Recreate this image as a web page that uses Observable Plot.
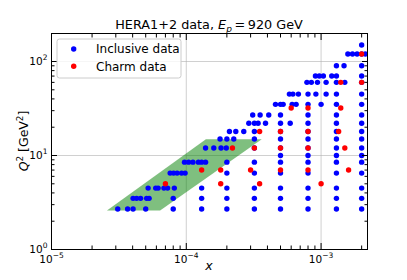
<!DOCTYPE html>
<html><head><meta charset="utf-8">
<script src="https://cdn.jsdelivr.net/npm/d3@7"></script>
<script src="https://cdn.jsdelivr.net/npm/@observablehq/plot@0.6"></script>
<style>
body{margin:0;background:#fff}
svg{font-family:"DejaVu Sans",sans-serif}
</style>
</head><body><div id="chart"></div>
<script>
// Inclusive data: Q^2 rows and the x values in each row
const incQ2 = [2.7, 3.5, 4.5, 6.5, 8.5, 10, 12, 15, 18, 22, 27, 35, 45, 60, 70, 90, 120, 150];
const incX = [
  [3.1e-5, 3.67e-5, 4.03e-5, 5.0e-5, 8.0e-5, 1.3e-4, 2.0e-4, 3.2e-4, 5.0e-4, 8.0e-4, 1.3e-3, 2.0e-3],
  [4.03e-5, 4.28e-5, 4.58e-5, 5.08e-5, 5.3e-5, 8.0e-5, 1.3e-4, 2.0e-4, 3.2e-4, 5.0e-4, 8.0e-4, 1.3e-3, 2.0e-3],
  [5.21e-5, 5.93e-5, 6.18e-5, 6.83e-5, 7.27e-5, 8.15e-5, 1.3e-4, 2.0e-4, 3.2e-4, 5.0e-4, 8.0e-4, 1.3e-3, 2.0e-3],
  [7.59e-5, 8.05e-5, 8.55e-5, 9.23e-5, 9.8e-5, 2.0e-4, 3.2e-4, 5.0e-4, 8.0e-4, 1.3e-3, 2.0e-3],
  [9.7e-5, 1.04e-4, 1.12e-4, 1.23e-4, 1.3e-4, 1.39e-4, 2.0e-4, 3.2e-4, 5.0e-4, 8.0e-4, 1.3e-3, 2.0e-3],
  [5.0e-4, 8.0e-4, 1.3e-3, 2.0e-3],
  [1.39e-4, 1.6e-4, 1.81e-4, 1.98e-4, 3.2e-4, 5.0e-4, 8.0e-4, 1.3e-3, 2.0e-3],
  [1.78e-4, 2.0e-4, 2.25e-4, 3.2e-4, 5.0e-4, 8.0e-4, 1.3e-3, 2.0e-3],
  [2.09e-4, 2.33e-4, 2.67e-4, 3.2e-4, 5.0e-4, 8.0e-4, 1.3e-3, 2.0e-3],
  [2.91e-4, 3.2e-4, 3.41e-4, 3.87e-4, 5.0e-4, 5.9e-4, 8.0e-4, 1.3e-3, 2.0e-3],
  [3.11e-4, 3.53e-4, 4.09e-4, 5.0e-4, 8.0e-4, 1.3e-3, 2.0e-3],
  [4.59e-4, 5.0e-4, 5.23e-4, 6.1e-4, 6.53e-4, 8.0e-4, 1.0e-3, 1.3e-3, 2.0e-3],
  [5.82e-4, 6.18e-4, 6.79e-4, 8.0e-4, 9.15e-4, 1.09e-3, 1.3e-3, 2.0e-3],
  [7.85e-4, 8.47e-4, 9.4e-4, 1.09e-3, 1.3e-3, 1.5e-3, 2.0e-3],
  [9.08e-4, 9.7e-4, 1.04e-3, 1.2e-3, 1.3e-3, 2.0e-3],
  [1.3e-3, 1.48e-3, 2.0e-3],
  [1.58e-3, 1.71e-3, 1.85e-3, 2.0e-3, 2.13e-3],
  [2.0e-3]
];
// Charm data
const charmQ2 = [5, 7, 12, 18, 32, 60, 120];
const charmX = [
  [7e-5, 1.8e-4, 3.5e-4, 1e-3],
  [1.3e-4, 1.8e-4, 3e-4, 5e-4, 8e-4, 1.6e-3],
  [2.2e-4, 3.2e-4, 5e-4, 8e-4, 1.5e-3],
  [3.5e-4, 5e-4, 8e-4, 1.35e-3],
  [6e-4, 8e-4, 1.4e-3],
  [1.4e-3, 2e-3],
  [2e-3]
];
// Green band (parallelogram): bottom and top Q^2 with left/right x edges
const bandQ2 = [2.57, 14.7];
const bandXLeft = [2.6e-5, 1.41e-4];
const bandXRight = [6.45e-5, 3.66e-4];
// Ticks (labels written as base^exponent)
const xMajor = [1e-5, 1e-4, 1e-3];
const xMajorLabels = ["10^\u22125", "10^\u22124", "10^\u22123"];
const xMinor = [2e-5,3e-5,4e-5,5e-5,6e-5,7e-5,8e-5,9e-5,2e-4,3e-4,4e-4,5e-4,6e-4,7e-4,8e-4,9e-4,2e-3];
const yMajor = [1, 10, 100];
const yMajorLabels = ["10^0", "10^1", "10^2"];
const yMinor = [2,3,4,5,6,7,8,9,20,30,40,50,60,70,80,90];

const inc = incQ2.flatMap((q, i) => incX[i].map(x => ({x, q})));
const charm = charmQ2.flatMap((q, i) => charmX[i].map(x => ({x, q})));
const band = bandQ2.map((q, i) => ({q, xl: bandXLeft[i], xr: bandXRight[i]}));

const gridStyle = {stroke: "#b0b0b0", strokeOpacity: 0.75, strokeWidth: 0.8};
const plot = Plot.plot({
  width: 407, height: 280,
  marginLeft: 51, marginRight: 40, marginTop: 33, marginBottom: 31,
  style: {fontFamily: "DejaVu Sans", fontSize: "10.5px", background: "white", color: "black"},
  x: {type: "log", domain: [1e-5, 2.21e-3]},
  y: {type: "log", domain: [1, 198.6]},
  marks: [
    Plot.gridX(xMajor.slice(1), gridStyle),
    Plot.gridY(yMajor.slice(1), gridStyle),
    Plot.areaX(band, {y: "q", x1: "xl", x2: "xr", fill: "green", fillOpacity: 0.5, curve: "linear"}),
    Plot.dot(inc, {x: "x", y: "q", r: 2.7, fill: "blue"}),
    Plot.dot(charm, {x: "x", y: "q", r: 2.7, fill: "red"}),
    Plot.frame({stroke: "black", strokeWidth: 1}),
    // inward ticks on all four sides
    Plot.axisX(xMajor, {anchor: "bottom", tickSize: -6, fill: "none", label: null}),
    Plot.axisX(xMinor, {anchor: "bottom", tickSize: -3.5, fill: "none", label: null}),
    Plot.axisX(xMajor, {anchor: "top", tickSize: -6, fill: "none", label: null}),
    Plot.axisX(xMinor, {anchor: "top", tickSize: -3.5, fill: "none", label: null}),
    Plot.axisY(yMajor, {anchor: "left", tickSize: -6, fill: "none", label: null}),
    Plot.axisY(yMinor, {anchor: "left", tickSize: -3.5, fill: "none", label: null}),
    Plot.axisY(yMajor, {anchor: "right", tickSize: -6, fill: "none", label: null}),
    Plot.axisY(yMinor, {anchor: "right", tickSize: -3.5, fill: "none", label: null}),
    // labels
    Plot.axisX(xMajor, {anchor: "bottom", tickSize: 0, tickPadding: 6, label: null,
      tickFormat: d => xMajorLabels[xMajor.indexOf(d)], fontSize: 10.5}),
    Plot.axisY(yMajor, {anchor: "left", tickSize: 0, tickPadding: 4, label: null,
      tickFormat: d => yMajorLabels[yMajor.indexOf(d)], fontSize: 10.5})
  ]
});
document.getElementById("chart").appendChild(plot);

const svg = d3.select(plot);

// turn "10^e" tick labels into base + superscript
svg.selectAll('g[aria-label*="tick label"] text').each(function () {
  const s = this.textContent;
  const parts = s.split("^");
  if (parts.length < 2) return;
  const el = d3.select(this);
  el.text(null);
  el.append("tspan").text(parts[0]);
  el.append("tspan").attr("font-size", 7.5).attr("dy", -4.5).text(parts[1]);
});

const xs = plot.scale("x"), ys = plot.scale("y");
const cx = (xs.range[0] + xs.range[1]) / 2;
const cy = (ys.range[0] + ys.range[1]) / 2;

// Title
const t = svg.append("text").attr("x", cx).attr("y", 29).attr("text-anchor", "middle")
  .attr("font-size", 12.8).attr("fill", "black");
t.append("tspan").text("HERA1+2 data, ");
t.append("tspan").attr("font-style", "italic").text("E");
t.append("tspan").attr("font-style", "italic").attr("font-size", 9).attr("dy", 2.8).text("p");
t.append("tspan").attr("dy", -2.8).text("\u2009=\u2009920 GeV");

// x label
svg.append("text").attr("x", cx).attr("y", 270).attr("text-anchor", "middle")
  .attr("font-size", 12.5).attr("font-style", "italic").attr("fill", "black").text("x");

// y label
const yl = svg.append("text").attr("transform", `translate(28,${cy}) rotate(-90)`)
  .attr("text-anchor", "middle").attr("font-size", 12.5).attr("fill", "black");
yl.append("tspan").attr("font-style", "italic").text("Q");
yl.append("tspan").attr("font-size", 8.8).attr("dy", -4.8).text("2");
yl.append("tspan").attr("dy", 4.8).text(" [GeV");
yl.append("tspan").attr("font-size", 8.8).attr("dy", -4.8).text("2");
yl.append("tspan").attr("dy", 4.8).text("]");

// Legend
const lg = svg.append("g").attr("text-anchor", "start");
lg.append("rect").attr("x", 57).attr("y", 39).attr("width", 124).attr("height", 39)
  .attr("rx", 2.5).attr("fill", "white").attr("fill-opacity", 0.8)
  .attr("stroke", "#cccccc").attr("stroke-width", 1);
const entries = [["Inclusive data", "blue", 49], ["Charm data", "red", 66.3]];
for (const [label, color, y] of entries) {
  lg.append("circle").attr("cx", 73.7).attr("cy", y).attr("r", 2.7).attr("fill", color);
  lg.append("text").attr("x", 96).attr("y", y).attr("dy", "0.36em").attr("font-size", 12)
    .attr("text-anchor", "start").attr("fill", "black").text(label);
}
</script>
</body></html>
